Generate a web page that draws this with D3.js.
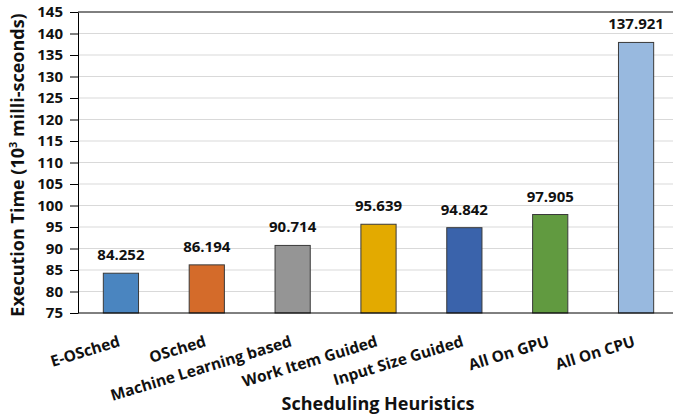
<!DOCTYPE html>
<html>
<head>
<meta charset="utf-8">
<script src="https://cdn.jsdelivr.net/npm/d3@7"></script>
<style>
  html, body { margin: 0; padding: 0; background: #fff; }
  svg { display: block; font-family: "Open Sans", "DejaVu Sans", sans-serif; }
</style>
</head>
<body>
<svg id="chart" width="673" height="418"></svg>
<script>
// Execution time per scheduling heuristic (10^3 ms)
const categories = ["E-OSched", "OSched", "Machine Learning based", "Work Item Guided",
                    "Input Size Guided", "All On GPU", "All On CPU"];
const values = [84.252, 86.194, 90.714, 95.639, 94.842, 97.905, 137.921];
const colors = ["#4a85c0", "#d46b2a", "#959595", "#e3aa00", "#3a63ab", "#619a40", "#98b9df"];
const yTicks = [75, 80, 85, 90, 95, 100, 105, 110, 115, 120, 125, 130, 135, 140, 145];
const yDomain = [75, 145];

const FONT = "'Open Sans', 'DejaVu Sans', sans-serif";
const svg = d3.select("#chart");
const plot = { left: 78, top: 12, right: 679, bottom: 313 };

const x = d3.scaleBand()
  .domain(categories)
  .range([plot.left, plot.right])
  .paddingInner(0.59)
  .paddingOuter(0.295);

const y = d3.scaleLinear().domain(yDomain).range([plot.bottom, plot.top]);

// horizontal gridlines
svg.append("g")
  .selectAll("line")
  .data(yTicks.slice(1, -1))
  .join("line")
  .attr("x1", plot.left).attr("x2", plot.right)
  .attr("y1", d => y(d)).attr("y2", d => y(d))
  .attr("stroke", "#d9d9d9").attr("stroke-width", 1);

// top border of the plot area
svg.append("line")
  .attr("x1", plot.left).attr("x2", plot.right)
  .attr("y1", y(yDomain[1])).attr("y2", y(yDomain[1]))
  .attr("stroke", "#000").attr("stroke-width", 1);

// bars
svg.append("g")
  .selectAll("rect")
  .data(values)
  .join("rect")
  .attr("x", (d, i) => x(categories[i]))
  .attr("y", d => y(d))
  .attr("width", x.bandwidth())
  .attr("height", d => y(yDomain[0]) - y(d))
  .attr("fill", (d, i) => colors[i])
  .attr("stroke", "#3a3a3a").attr("stroke-width", 1);

// value labels
svg.append("g")
  .selectAll("text")
  .data(values)
  .join("text")
  .attr("x", (d, i) => x(categories[i]) + x.bandwidth() / 2)
  .attr("y", d => y(d) - 13)
  .attr("text-anchor", "middle")
  .attr("font-size", 15).attr("font-weight", "bold").attr("fill", "#111")
  .text(d => d3.format(".3f")(d));

// y axis
const yAxis = svg.append("g")
  .attr("transform", `translate(${plot.left},0)`)
  .call(d3.axisLeft(y).tickValues(yTicks).tickSizeInner(8).tickSizeOuter(0).tickPadding(7));
yAxis.select(".domain").attr("stroke", "#000");
yAxis.selectAll(".tick line").attr("stroke", "#000");
yAxis.selectAll(".tick text")
  .attr("font-size", 15).attr("font-weight", "bold").attr("fill", "#111")
  .attr("font-family", FONT);

// x axis baseline
svg.append("line")
  .attr("x1", plot.left).attr("x2", plot.right)
  .attr("y1", plot.bottom).attr("y2", plot.bottom)
  .attr("stroke", "#000").attr("stroke-width", 1);

// rotated category labels, right end anchored under each bar
svg.append("g")
  .selectAll("text")
  .data(categories)
  .join("text")
  .attr("transform", d => `translate(${x(d) + x.bandwidth() / 2},${plot.bottom + 33}) rotate(-17)`)
  .attr("text-anchor", "end")
  .attr("font-size", 15.5).attr("font-weight", "bold").attr("fill", "#111")
  .text(d => d);

// axis titles
svg.append("text")
  .attr("x", 378).attr("y", 410)
  .attr("text-anchor", "middle")
  .attr("font-size", 18).attr("font-weight", "bold").attr("fill", "#111")
  .text("Scheduling Heuristics");

const yTitle = svg.append("text")
  .attr("transform", "translate(24,165) rotate(-90)")
  .attr("text-anchor", "middle")
  .attr("font-size", 18).attr("font-weight", "bold").attr("fill", "#111");
yTitle.append("tspan").text("Execution Time (10");
yTitle.append("tspan").attr("baseline-shift", "super").attr("font-size", 11).text("3");
yTitle.append("tspan").text(" milli-sceonds)");
</script>
</body>
</html>
